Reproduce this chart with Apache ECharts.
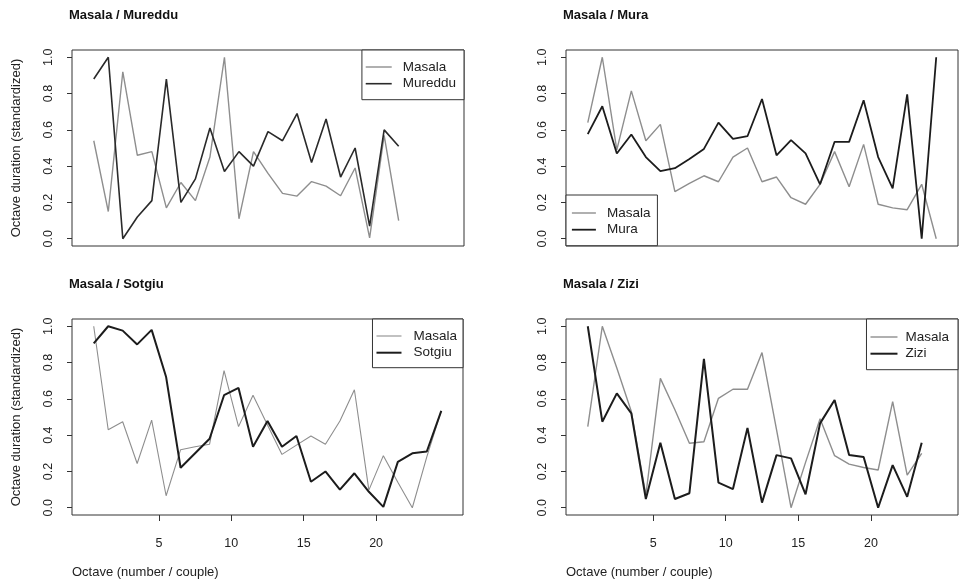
<!DOCTYPE html>
<html>
<head>
<meta charset="utf-8">
<script src="https://cdn.jsdelivr.net/npm/echarts@6/dist/echarts.min.js"></script>
<style>
  html, body { margin: 0; padding: 0; background: #ffffff; }
  #chart { width: 959px; height: 583px; }
</style>
</head>
<body>
<div id="chart"></div>
<script>
// Standardized octave durations, one value per octave (couple), per singer pair.
const masalaVsMureddu = [0.54, 0.15, 0.92, 0.46, 0.48, 0.17, 0.31, 0.21, 0.45, 1.0, 0.11,
  0.48, 0.36, 0.25, 0.235, 0.315, 0.29, 0.237, 0.39, 0.005, 0.57, 0.10];
const mureddu = [0.88, 1.0, 0.0, 0.12, 0.21, 0.88, 0.20, 0.33, 0.61, 0.37, 0.48,
  0.40, 0.59, 0.54, 0.69, 0.42, 0.66, 0.34, 0.50, 0.07, 0.60, 0.51];

const masalaVsMura = [0.64, 1.0, 0.49, 0.815, 0.54, 0.63, 0.26, 0.305, 0.347, 0.314, 0.45,
  0.50, 0.314, 0.34, 0.226, 0.19, 0.30, 0.48, 0.286, 0.52, 0.19, 0.17, 0.16, 0.30, 0.0];
const mura = [0.576, 0.73, 0.47, 0.574, 0.45, 0.372, 0.389, 0.44, 0.495, 0.64, 0.55,
  0.565, 0.77, 0.46, 0.543, 0.47, 0.30, 0.534, 0.534, 0.763, 0.45, 0.277, 0.796, 0.0, 1.0];

const masalaVsSotgiu = [1.0, 0.43, 0.474, 0.244, 0.483, 0.066, 0.32, 0.336, 0.35, 0.755, 0.447,
  0.62, 0.456, 0.294, 0.345, 0.395, 0.35, 0.478, 0.65, 0.097, 0.287, 0.14, 0.0, 0.28, 0.534];
const sotgiu = [0.906, 1.0, 0.976, 0.90, 0.98, 0.72, 0.22, 0.30, 0.38, 0.62, 0.66,
  0.336, 0.478, 0.336, 0.395, 0.143, 0.20, 0.10, 0.19, 0.088, 0.005, 0.253, 0.30, 0.31, 0.534];

const masalaVsZizi = [0.447, 1.0, 0.77, 0.53, 0.07, 0.713, 0.54, 0.355, 0.364, 0.603, 0.653,
  0.653, 0.855, 0.43, 0.0, 0.25, 0.49, 0.287, 0.24, 0.222, 0.208, 0.585, 0.18, 0.30];
const zizi = [1.0, 0.474, 0.63, 0.52, 0.048, 0.358, 0.048, 0.08, 0.82, 0.138, 0.103,
  0.44, 0.028, 0.29, 0.272, 0.074, 0.465, 0.594, 0.29, 0.28, 0.0, 0.235, 0.06, 0.358];

const yTicks = [0, 0.2, 0.4, 0.6, 0.8, 1.0];
const xTicks = [5, 10, 15, 20];
const panelTitles = ['Masala / Mureddu', 'Masala / Mura', 'Masala / Sotgiu', 'Masala / Zizi'];
const partnerNames = ['Mureddu', 'Mura', 'Sotgiu', 'Zizi'];
const yTitle = 'Octave duration (standardized)';
const xTitle = 'Octave (number / couple)';

const FONT = '"Liberation Sans", Arial, Helvetica, sans-serif';
const GRAY = '#8e8e8e';
const DARK = '#1c1c1c';
const FRAME = '#333333';

// each octave is drawn at the middle of its unit slot
const toPoints = vals => vals.map((v, i) => [i + 0.5, v]);

const panels = [
  { grid: { left: 72, top: 50, width: 392, height: 196 }, masala: masalaVsMureddu, other: mureddu,
    showX: false, showYTitle: true, wMasala: 1.4, wOther: 1.6, otherColor: '#2a2a2a',
    legend: { right: 495, top: 50, padding: [10, 8, 9, 3], textPad: 6, iw: 26 } },
  { grid: { left: 566, top: 50, width: 392, height: 196 }, masala: masalaVsMura, other: mura,
    showX: false, showYTitle: false, wMasala: 1.4, wOther: 1.8, otherColor: DARK,
    legend: { left: 566, top: 195, padding: [11, 7, 9, 5], textPad: 6, iw: 24 } },
  { grid: { left: 72, top: 319, width: 391, height: 196 }, masala: masalaVsSotgiu, other: sotgiu,
    showX: true, showYTitle: true, wMasala: 1.1, wOther: 2.0, otherColor: DARK,
    legend: { right: 496, top: 319, padding: [10, 6, 8, 3], textPad: 7, iw: 25 } },
  { grid: { left: 566, top: 319, width: 392, height: 196 }, masala: masalaVsZizi, other: zizi,
    showX: true, showYTitle: false, wMasala: 1.4, wOther: 2.0, otherColor: DARK,
    legend: { right: 1, top: 319, padding: [11, 9, 9, 3], textPad: 3, iw: 27 } }
];

const option = {
  animation: false,
  backgroundColor: '#ffffff',
  textStyle: { fontFamily: FONT },
  title: [],
  grid: [],
  xAxis: [],
  yAxis: [],
  legend: [],
  series: []
};

panels.forEach((p, k) => {
  option.grid.push(Object.assign({ show: true, borderColor: FRAME, borderWidth: 1,
    backgroundColor: 'transparent', containLabel: false }, p.grid));

  option.title.push({
    text: panelTitles[k],
    left: p.grid.left - 3,
    top: p.grid.top - 41,
    padding: 0,
    textStyle: { fontFamily: FONT, fontSize: 13, fontWeight: 'bold', color: '#111' }
  });

  option.xAxis.push({
    type: 'value', gridIndex: k, min: -1, max: 26,
    splitLine: { show: false },
    axisLine: { show: false, onZero: false },
    axisTick: { show: p.showX, inside: false, length: 6, lineStyle: { color: FRAME },
      customValues: xTicks },
    axisLabel: { show: p.showX, margin: 22, fontSize: 12.5, color: '#222', fontFamily: FONT,
      customValues: xTicks }
  });

  option.yAxis.push({
    type: 'value', gridIndex: k, min: -0.04, max: 1.04,
    name: p.showYTitle ? yTitle : '',
    nameLocation: 'middle', nameRotate: 90, nameGap: 49,
    nameTextStyle: { fontFamily: FONT, fontSize: 13, color: '#222' },
    splitLine: { show: false },
    axisLine: { show: false, onZero: false },
    axisTick: { show: true, inside: false, length: 5, lineStyle: { color: FRAME },
      customValues: yTicks },
    axisLabel: { show: true, rotate: 90, margin: 17, fontSize: 12.5, color: '#222', fontFamily: FONT,
      customValues: yTicks, formatter: v => v.toFixed(1) }
  });

  const lg = p.legend;
  option.legend.push(Object.assign({
    orient: 'vertical',
    backgroundColor: '#ffffff',
    borderColor: FRAME, borderWidth: 1, borderRadius: 0,
    padding: lg.padding,
    itemWidth: lg.iw, itemHeight: 12, itemGap: 2.7,
    selectedMode: false,
    textStyle: { fontFamily: FONT, fontSize: 13.5, lineHeight: 12, color: '#222',
      padding: [0, 0, 0, lg.textPad] },
    data: [
      { name: 'Masala', itemStyle: { opacity: 0 }, lineStyle: { color: GRAY, width: p.wMasala } },
      { name: partnerNames[k], itemStyle: { opacity: 0 },
        lineStyle: { color: p.otherColor, width: p.wOther } }
    ]
  }, lg.left !== undefined ? { left: lg.left } : { right: lg.right }, { top: lg.top }));

  option.series.push({
    name: 'Masala', type: 'line', xAxisIndex: k, yAxisIndex: k,
    data: toPoints(p.masala), symbol: 'none', z: 2,
    lineStyle: { color: GRAY, width: p.wMasala }, itemStyle: { color: GRAY }
  });
  option.series.push({
    name: partnerNames[k], type: 'line', xAxisIndex: k, yAxisIndex: k,
    data: toPoints(p.other), symbol: 'none', z: 3,
    lineStyle: { color: p.otherColor, width: p.wOther }, itemStyle: { color: p.otherColor }
  });

  if (p.showX) {
    option.title.push({
      text: xTitle,
      left: p.grid.left,
      top: 566,
      padding: 0,
      textStyle: { fontFamily: FONT, fontSize: 13, fontWeight: 'normal', color: '#222' }
    });
  }
});

const chart = echarts.init(document.getElementById('chart'), null, { renderer: 'canvas' });
chart.setOption(option);
</script>
</body>
</html>
